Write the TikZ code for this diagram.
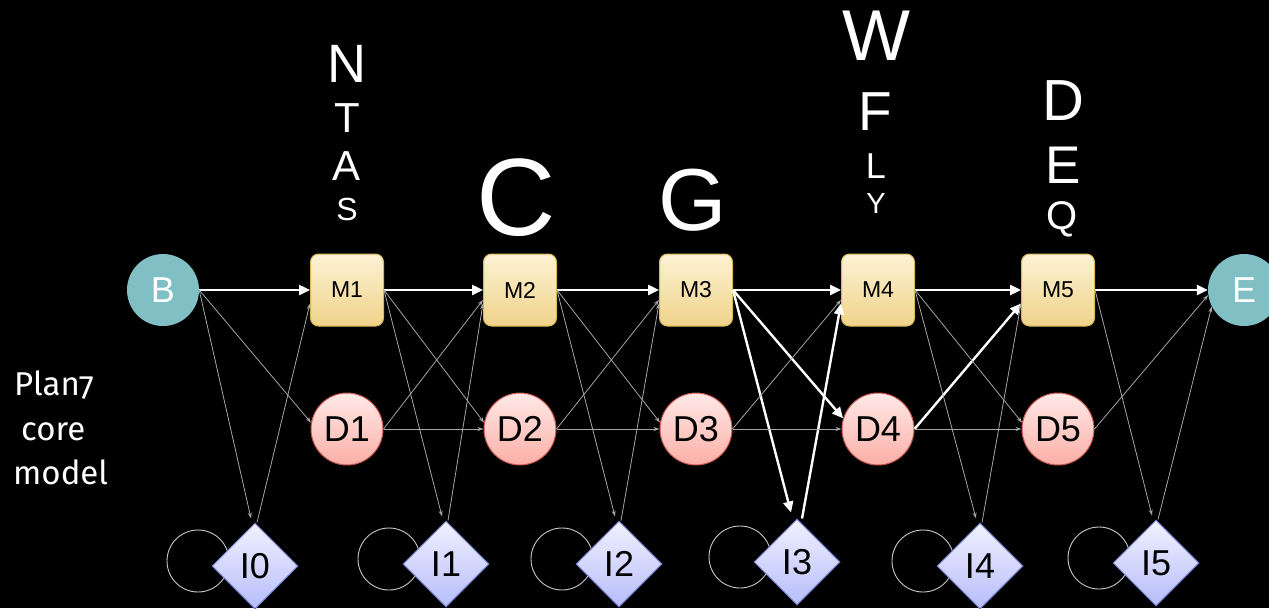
\documentclass[tikz,border=0pt]{standalone}
\usepackage{fontspec}
\setmainfont{Liberation Sans}
\newfontfamily\notefont[Numbers=OldStyle]{Fira Sans}
\usetikzlibrary{shapes.geometric, arrows.meta, positioning}

\begin{document}
\begin{tikzpicture}[x=1pt, y=-1pt,
    mstate/.style={rectangle, rounded corners=8pt, draw=mborder, line width=1pt,
      top color=mtop, bottom color=mbot, minimum width=73pt, minimum height=72pt,
      inner sep=0pt, font=\fontsize{23}{23}\selectfont},
    dstate/.style={circle, draw=dborder, line width=1pt, top color=dtop,
      bottom color=dbot, minimum size=72pt, inner sep=0pt,
      font=\fontsize{36}{36}\selectfont},
    istate/.style={diamond, aspect=1, draw=iborder, line width=1pt, top color=itop,
      bottom color=ibot, minimum width=86pt, minimum height=86pt, inner sep=0pt,
      font=\fontsize{36}{36}\selectfont},
    endstate/.style={circle, fill=endfill, minimum size=72pt, inner sep=0pt,
      text=white, font=\fontsize{36}{36}\selectfont},
    trans/.style={draw=white, line width=2.4pt, -{Triangle[length=11pt,width=10pt]}},
    weak/.style={draw=weakline, line width=0.8pt, -{Stealth[length=6pt,width=4pt]}},
    selfloop/.style={draw=loopline, line width=0.9pt},
    letter/.style={text=white, anchor=base, inner sep=0pt},
    note/.style={text=white, anchor=base west, inner sep=0pt,
      font=\notefont\fontsize{33}{33}\selectfont}]

    % Define colors
    \definecolor{mtop}{RGB}{252, 242, 212}
    \definecolor{mbot}{RGB}{240, 211, 138}
    \definecolor{mborder}{RGB}{214, 182, 86}
    \definecolor{dtop}{RGB}{255, 233, 231}
    \definecolor{dbot}{RGB}{251, 175, 167}
    \definecolor{dborder}{RGB}{196, 84, 78}
    \definecolor{itop}{RGB}{241, 241, 255}
    \definecolor{ibot}{RGB}{182, 189, 250}
    \definecolor{iborder}{RGB}{110, 122, 200}
    \definecolor{endfill}{RGB}{128, 192, 197}
    \definecolor{weakline}{RGB}{165, 165, 165}
    \definecolor{loopline}{RGB}{200, 200, 200}

    % Background
    \fill[black] (0,0) rectangle (1269,608);
    \useasboundingbox (0,0) rectangle (1269,608);

    % Begin and end states
    \node[endstate] (B) at (163,290) {B};
    \node[endstate] (E) at (1244,290) {E};

    % Match and delete states
    \foreach \k/\x in {1/347, 2/520, 3/696, 4/878, 5/1058} {
      \node[mstate] (M\k) at (\x,290) {M\k};
      \node[dstate] (D\k) at (\x,429) {D\k};
    }

    % Insert states, self loop drawn first so the diamond hides part of it
    \foreach \k/\x/\y in {0/255/566, 1/446/564, 2/619/564, 3/797/562, 4/980/566, 5/1156/563} {
      \coordinate (L\k) at (\x-57,\y-5);
      \draw[selfloop] (L\k) circle[radius=31];
      \node[istate] (I\k) at (\x,\y) {I\k};
    }

    % Residue letters above the match states
    \node[letter, font=\fontsize{54}{54}\selectfont] (lN) at (347,82) {N};
    \node[letter, font=\fontsize{42}{42}\selectfont] (lT) at (347,132) {T};
    \node[letter, font=\fontsize{42}{42}\selectfont] (lA) at (347,180) {A};
    \node[letter, font=\fontsize{32}{32}\selectfont] (lS) at (347,220) {S};
    \node[letter, font=\fontsize{110}{110}\selectfont] (lC) at (516,235) {C};
    \node[letter, font=\fontsize{88}{88}\selectfont] (lG) at (693,230) {G};
    \node[letter, font=\fontsize{72}{72}\selectfont] (lW) at (876,60) {W};
    \node[letter, font=\fontsize{55}{55}\selectfont] (lF) at (875,130) {F};
    \node[letter, font=\fontsize{36}{36}\selectfont] (lL) at (876,178) {L};
    \node[letter, font=\fontsize{29}{29}\selectfont] (lY) at (876,213) {Y};
    \node[letter, font=\fontsize{58}{58}\selectfont] (lD) at (1063,120) {D};
    \node[letter, font=\fontsize{53}{53}\selectfont] (lE) at (1063,183) {E};
    \node[letter, font=\fontsize{40}{40}\selectfont] (lQ) at (1062,229) {Q};

    % Side caption
    \node[note] (plan) at (14,395) {Plan7};
    \node[note] (core) at (21,440) {core};
    \node[note] (model) at (13,484) {model};

    % Main path through the match states
    \foreach \a/\b in {B/M1, M1/M2, M2/M3, M3/M4, M4/M5, M5/E}
      \draw[trans] (\a.east) -- (\b.west);

    % Highlighted transitions
    \draw[trans] (M3.east) -- ([xshift=-6pt,yshift=6pt]I3.north);
    \draw[trans] ([xshift=5pt]I3.north) -- (M4.200);
    \draw[trans] (M3.east) -- (D4.163);
    \draw[trans] (D4.east) -- (M5.200);

    % Match to delete, delete to match, delete to delete
    \foreach \a/\b in {1/2, 2/3, 4/5}
      \draw[weak] (M\a.east) -- (D\b.170);
    \foreach \a/\b in {1/2, 2/3, 3/4}
      \draw[weak] (D\a.east) -- (M\b.195);
    \foreach \a/\b in {1/2, 2/3, 3/4, 4/5}
      \draw[weak] (D\a.east) -- (D\b.west);
    \draw[weak] (B.east) -- (D1.170);
    \draw[weak] (D5.east) -- (E.188);

    % Match to insert, insert to next match
    \draw[weak] (B.east) -- ([xshift=-4pt,yshift=4pt]I0.north);
    \foreach \k in {1, 2, 4, 5}
      \draw[weak] (M\k.east) -- ([xshift=-4pt,yshift=4pt]I\k.north);
    \foreach \a/\b in {0/1, 1/2, 2/3, 4/5}
      \draw[weak] ([xshift=2pt]I\a.north) -- (M\b.200);
    \draw[weak] ([xshift=2pt]I5.north) -- (E.207);

\end{tikzpicture}
\end{document}
